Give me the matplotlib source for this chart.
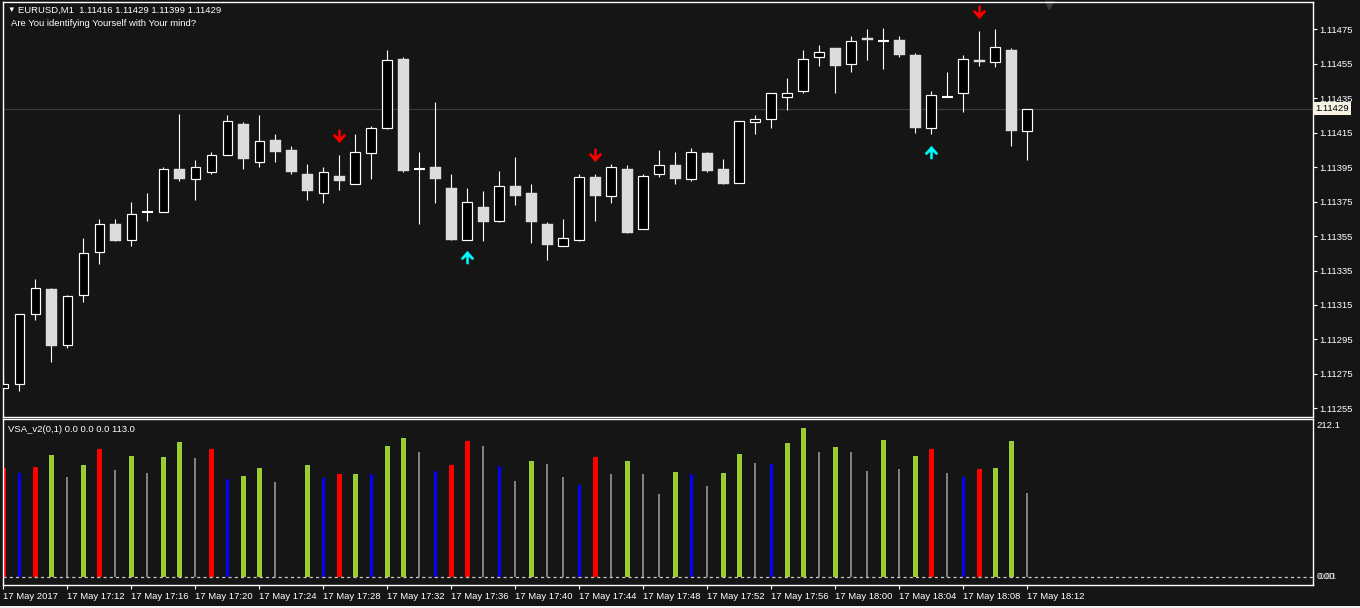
import numpy as np
import matplotlib.pyplot as plt
import matplotlib.transforms as mtransforms
from matplotlib.path import Path
from matplotlib.patches import Rectangle

plt.rcParams['font.family'] = ['Liberation Sans', 'DejaVu Sans']

# EURUSD M1, 17 May 2017, one bar per minute from 17:08 to 18:12
opens = [1.11267, 1.11269, 1.11310, 1.11324, 1.11292, 1.11321, 1.11346, 1.11362, 1.11353, 1.11369,
         1.11369, 1.11394, 1.11388, 1.11392, 1.11402, 1.11420, 1.11398, 1.11411, 1.11405, 1.11391,
         1.11380, 1.11390, 1.11385, 1.11403, 1.11418, 1.11458, 1.11394, 1.11395, 1.11383, 1.11353,
         1.11372, 1.11364, 1.11384, 1.11380, 1.11362, 1.11349, 1.11353, 1.11389, 1.11378, 1.11394,
         1.11359, 1.11391, 1.11396, 1.11388, 1.11403, 1.11394, 1.11386, 1.11421, 1.11423, 1.11436,
         1.11439, 1.11459, 1.11464, 1.11455, 1.11470, 1.11468, 1.11469, 1.11460, 1.11418, 1.11436,
         1.11438, 1.11457, 1.11456, 1.11463, 1.11416]
highs = [1.11276, 1.11310, 1.11330, 1.11325, 1.11321, 1.11354, 1.11365, 1.11365, 1.11375, 1.11380,
         1.11395, 1.11426, 1.11399, 1.11404, 1.11425, 1.11421, 1.11425, 1.11414, 1.11407, 1.11397,
         1.11395, 1.11402, 1.11414, 1.11419, 1.11463, 1.11459, 1.11404, 1.11433, 1.11391, 1.11383,
         1.11381, 1.11393, 1.11401, 1.11385, 1.11363, 1.11365, 1.11391, 1.11391, 1.11397, 1.11396,
         1.11391, 1.11405, 1.11404, 1.11406, 1.11404, 1.11400, 1.11422, 1.11425, 1.11438, 1.11447,
         1.11463, 1.11466, 1.11464, 1.11471, 1.11475, 1.11476, 1.11471, 1.11461, 1.11439, 1.11450,
         1.11460, 1.11474, 1.11475, 1.11464, 1.11429]
lows = [1.11261, 1.11265, 1.11306, 1.11282, 1.11290, 1.11317, 1.11339, 1.11352, 1.11349, 1.11364,
        1.11369, 1.11387, 1.11376, 1.11391, 1.11402, 1.11394, 1.11395, 1.11398, 1.11391, 1.11376,
        1.11374, 1.11382, 1.11385, 1.11388, 1.11417, 1.11392, 1.11362, 1.11374, 1.11353, 1.11353,
        1.11352, 1.11363, 1.11373, 1.11351, 1.11341, 1.11349, 1.11352, 1.11364, 1.11374, 1.11357,
        1.11359, 1.11389, 1.11385, 1.11387, 1.11392, 1.11385, 1.11386, 1.11414, 1.11418, 1.11428,
        1.11438, 1.11454, 1.11438, 1.11450, 1.11457, 1.11452, 1.11459, 1.11415, 1.11414, 1.11436,
        1.11427, 1.11454, 1.11453, 1.11407, 1.11399]
closes = [1.11269, 1.11310, 1.11325, 1.11291, 1.11320, 1.11345, 1.11362, 1.11352, 1.11368, 1.11369,
          1.11394, 1.11388, 1.11395, 1.11402, 1.11422, 1.11400, 1.11410, 1.11404, 1.11392, 1.11381,
          1.11392, 1.11387, 1.11404, 1.11418, 1.11457, 1.11393, 1.11394, 1.11388, 1.11353, 1.11375,
          1.11363, 1.11384, 1.11378, 1.11363, 1.11350, 1.11354, 1.11389, 1.11378, 1.11395, 1.11357,
          1.11390, 1.11396, 1.11388, 1.11404, 1.11393, 1.11385, 1.11422, 1.11423, 1.11438, 1.11438,
          1.11458, 1.11462, 1.11454, 1.11468, 1.11469, 1.11468, 1.11460, 1.11418, 1.11437, 1.11436,
          1.11458, 1.11456, 1.11465, 1.11416, 1.11429]

# signal arrows (bar index)
sell_signals = [21, 37, 61]
buy_signals = [29, 58]

# VSA_v2 volume histogram
volumes = [147.0, 140.3, 148.4, 164.5, 134.9, 151.0, 172.6, 144.3, 163.2, 140.3,
           161.8, 182.0, 160.5, 172.6, 132.2, 136.3, 147.0, 128.3, 0.0, 151.0,
           133.6, 138.9, 138.9, 138.9, 176.6, 187.4, 168.5, 143.0, 151.0, 183.3,
           176.6, 149.7, 129.5, 156.4, 152.4, 134.9, 124.1, 161.8, 138.9, 156.4,
           138.9, 112.0, 141.6, 138.9, 122.8, 140.3, 165.8, 153.7, 152.4, 180.6,
           200.8, 168.5, 175.2, 168.5, 143.0, 184.7, 145.7, 163.2, 172.6, 140.3,
           134.9, 145.7, 147.0, 183.3, 113.0]
vol_kind = ['r', 'b', 'r', 'g', 'x', 'g', 'r', 'x', 'g', 'x',
            'g', 'g', 'x', 'r', 'b', 'g', 'g', 'x', 'x', 'g',
            'b', 'r', 'g', 'b', 'g', 'g', 'x', 'b', 'r', 'r',
            'x', 'b', 'x', 'g', 'x', 'x', 'b', 'r', 'x', 'g',
            'x', 'x', 'g', 'b', 'x', 'g', 'g', 'x', 'b', 'g',
            'g', 'x', 'g', 'x', 'x', 'g', 'x', 'g', 'r', 'x',
            'b', 'r', 'g', 'g', 'x']
vol_max = 212.1

price_ticks = [1.11255, 1.11275, 1.11295, 1.11315, 1.11335, 1.11355,
               1.11375, 1.11395, 1.11415, 1.11435, 1.11455, 1.11475]
time_ticks = list(range(0, 65, 4))
time_labels = ['17 May 2017', '17 May 17:12', '17 May 17:16', '17 May 17:20', '17 May 17:24',
               '17 May 17:28', '17 May 17:32', '17 May 17:36', '17 May 17:40', '17 May 17:44',
               '17 May 17:48', '17 May 17:52', '17 May 17:56', '17 May 18:00', '17 May 18:04',
               '17 May 18:08', '17 May 18:12']

W, H = 1360, 608
BG = '#151515'
FS = 6.8
kind_color = {'r': '#ff0000', 'b': '#0000ff', 'g': '#9acd32', 'x': '#808080'}
kind_width = {'r': 0.30, 'b': 0.21, 'g': 0.31, 'x': 0.13}


def px_box(x0, y0, x1, y1):
    return [x0 / W, 1 - y1 / H, (x1 - x0) / W, (y1 - y0) / H]


fig = plt.figure(figsize=(W / 100, H / 100), dpi=100, facecolor=BG)
ax = fig.add_axes(px_box(3, 2.3, 1313, 417.3), facecolor=BG)
axv = fig.add_axes(px_box(3, 419.3, 1313, 584.7), facecolor=BG)

xlim = (-0.02, 81.86)

# ---- candles
o = np.array(opens); h = np.array(highs); l = np.array(lows); c = np.array(closes)
xs = np.arange(len(o))
bull = c > o
bear = c < o
doji = c == o
ax.vlines(xs, l, h, color='white', lw=0.8, zorder=2)
ax.bar(xs[bull], (c - o)[bull], bottom=o[bull], width=0.6,
       facecolor='black', edgecolor='white', lw=0.85, zorder=3)
ax.bar(xs[bear], (o - c)[bear], bottom=c[bear], width=0.68,
       facecolor='#dcdcdc', edgecolor='#dcdcdc', lw=0.3, zorder=3)
ax.hlines(o[doji], xs[doji] - 0.33, xs[doji] + 0.33, color='white', lw=1.5, zorder=3)

# current price line
ax.axhline(closes[-1], color='#3a3a3a', lw=0.9, zorder=1)

# arrows
dn = [(-0.1, 0.5), (0.1, 0.5), (0.1, -0.05), (0.38, 0.2), (0.5, 0.07), (0, -0.5),
      (-0.5, 0.07), (-0.38, 0.2), (-0.1, -0.05), (-0.1, 0.5)]
codes = [Path.MOVETO] + [Path.LINETO] * (len(dn) - 2) + [Path.CLOSEPOLY]
down_arrow = Path(dn, codes)
up_arrow = Path([(x, -y) for x, y in dn], codes)
ax.plot(sell_signals, h[sell_signals] + 0.00011, ls='none', marker=down_arrow,
        ms=9.5, color='#ff0000', mec='#a00000', mew=0.3, zorder=4)
ax.plot(buy_signals, l[buy_signals] - 0.00010, ls='none', marker=up_arrow,
        ms=9.5, color='#00ffff', mec='#00a0a0', mew=0.3, zorder=4)

ax.set_xlim(*xlim)
ax.set_ylim(1.112498, 1.114907)
ax.set_xticks([])
ax.yaxis.tick_right()
ax.set_yticks(price_ticks)
ax.set_yticklabels([f'{p:.5f}' for p in price_ticks])
ax.tick_params(axis='y', direction='out', length=3, width=0.8, colors='white',
               labelsize=FS, pad=1.5)
for s in ax.spines.values():
    s.set_color('white')
    s.set_linewidth(1)

# chart shift marker
ax.plot([65.35], [0.993], transform=mtransforms.blended_transform_factory(ax.transData, ax.transAxes),
        marker='v', ms=6, color='#3c3c3c', ls='none', clip_on=False)

# price label box
ax.text(1.0016, closes[-1], f'{closes[-1]:.5f}',
        transform=mtransforms.blended_transform_factory(ax.transAxes, ax.transData),
        ha='left', va='center', fontsize=FS, color='black',
        bbox=dict(boxstyle='square,pad=0.25', facecolor='#f6f2e4', edgecolor='none'))

# ---- volume panel
for i, (v, k) in enumerate(zip(volumes, vol_kind)):
    if v > 0:
        axv.bar(i, v, width=kind_width[k], color=kind_color[k], lw=0, zorder=2)
axv.axhline(0, color='#c8c8c8', lw=0.9, ls=(0, (2.5, 2.5)), zorder=3)
axv.set_xlim(*xlim)
axv.set_ylim(-10.4, vol_max)
axv.set_yticks([])
axv.set_xticks(time_ticks)
axv.set_xticklabels(time_labels)
for lbl in axv.get_xticklabels():
    lbl.set_ha('left')
axv.tick_params(axis='x', direction='out', length=3, width=0.8, colors='white',
                labelsize=FS, pad=2.5)
for s in axv.spines.values():
    s.set_color('white')
    s.set_linewidth(1)

tr = mtransforms.blended_transform_factory(axv.transAxes, axv.transData)
axv.text(1.003, vol_max - 2, f'{vol_max:.1f}', transform=tr, ha='left', va='top',
         fontsize=FS, color='white')
axv.text(1.003, 0, '0.00', transform=tr, ha='left', va='center', fontsize=FS, color='white')
axv.text(1.0045, 0, '0.01', transform=tr, ha='left', va='center', fontsize=FS,
         color='white', alpha=0.6)
axv.text(0.004, 0.94, 'VSA_v2(0,1) 0.0 0.0 0.0 113.0', transform=axv.transAxes,
         ha='left', va='center', fontsize=FS, color='white')

# ---- header texts
fig.text(7 / W, 1 - 10.5 / H, '\u25bc', fontsize=5.5, color='white', va='center', ha='left')
fig.text(18 / W, 1 - 10.5 / H,
         f'EURUSD,M1  {opens[-1]:.5f} {highs[-1]:.5f} {lows[-1]:.5f} {closes[-1]:.5f}',
         fontsize=FS, color='white', va='center', ha='left')
fig.text(11 / W, 1 - 24 / H, 'Are You identifying Yourself with Your mind?',
         fontsize=FS, color='white', va='center', ha='left')

fig.patches.append(Rectangle((0, 0), 1, 2.5 / H, transform=fig.transFigure,
                             facecolor='#f0f0f0', edgecolor='none'))

fig.savefig('out.png', dpi=100, facecolor=BG)
